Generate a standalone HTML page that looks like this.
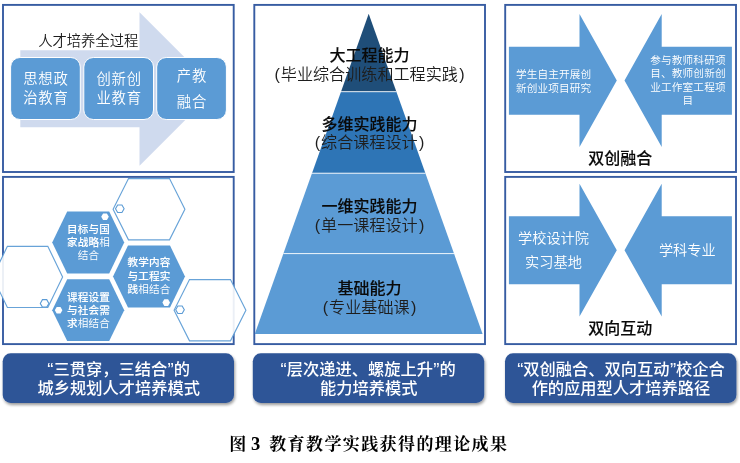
<!DOCTYPE html>
<html lang="zh-CN"><head><meta charset="utf-8"><title>图 3 教育教学实践获得的理论成果</title>
<style>
html,body{margin:0;padding:0;background:#fff;}
body{width:740px;height:463px;overflow:hidden;position:relative;}
svg{display:block;position:absolute;left:0;top:0;font-family:"Liberation Sans", "Noto Sans CJK SC", sans-serif;will-change:transform;}
.cap{font-family:"Liberation Serif", "Noto Serif CJK SC", serif;}
</style></head><body>
<svg width="740" height="463" viewBox="0 0 740 463" role="img" aria-label="图 3 教育教学实践获得的理论成果">
<defs><filter id="sh" x="-5%" y="-10%" width="112%" height="130%"><feGaussianBlur in="SourceAlpha" stdDeviation="1.5"/><feOffset dx="1.3" dy="1.6" result="o"/><feComponentTransfer><feFuncA type="linear" slope="0.4"/></feComponentTransfer><feMerge><feMergeNode/><feMergeNode in="SourceGraphic"/></feMerge></filter></defs>
<rect width="740" height="463" fill="#fff"/>
<rect x="3" y="4.9" width="230.7" height="167.1" fill="#fff" stroke="#375CA2" stroke-width="1.9"/>
<polygon points="20.3,50.3 139.5,50.3 139.5,12.2 216.3,89 139.5,165.8 139.5,127.2 20.3,127.2" fill="#CFDAEE"/>
<rect x="10.6" y="57.5" width="69.7" height="62" rx="9.5" ry="9.5" fill="#5B9BD5" stroke="#fff" stroke-width="1"/>
<rect x="83.8" y="57.5" width="69.7" height="62" rx="9.5" ry="9.5" fill="#5B9BD5" stroke="#fff" stroke-width="1"/>
<rect x="156.7" y="57.5" width="69.7" height="62" rx="9.5" ry="9.5" fill="#5B9BD5" stroke="#fff" stroke-width="1"/>
<text x="38.2" y="46.4" font-size="14.3" fill="#1c1c1c" font-weight="350" text-anchor="start" >人才培养全过程</text>
<text x="45.9" y="84.2" font-size="14.35" fill="#fff" font-weight="350" text-anchor="middle" letter-spacing="0.75">思想政</text>
<text x="45.9" y="103.0" font-size="14.35" fill="#fff" font-weight="350" text-anchor="middle" letter-spacing="0.75">治教育</text>
<text x="119.1" y="84.2" font-size="14.35" fill="#fff" font-weight="350" text-anchor="middle" letter-spacing="0.75">创新创</text>
<text x="119.1" y="103.0" font-size="14.35" fill="#fff" font-weight="350" text-anchor="middle" letter-spacing="0.75">业教育</text>
<text x="191.9" y="80.8" font-size="14.35" fill="#fff" font-weight="350" text-anchor="middle" letter-spacing="0.75">产教</text>
<text x="191.9" y="106.8" font-size="14.35" fill="#fff" font-weight="350" text-anchor="middle" letter-spacing="0.75">融合</text>
<rect x="3" y="176.9" width="230.7" height="167.2" fill="#fff" stroke="#375CA2" stroke-width="1.9"/>
<polygon points="113.1,209.2 128.5,178.6 169.5,178.6 184.9,209.2 169.5,239.79999999999998 128.5,239.79999999999998" fill="#fff" fill-opacity="0.9" stroke="#5B9BD5" stroke-opacity="0.92" stroke-width="1.15"/>
<polygon points="-7.399999999999999,276.9 7.400000000000002,246.29999999999998 47.8,246.29999999999998 62.6,276.9 47.8,307.5 7.400000000000002,307.5" fill="#fff" fill-opacity="0.9" stroke="#5B9BD5" stroke-opacity="0.92" stroke-width="1.15"/>
<polygon points="174.1,310.2 189.5,279.59999999999997 230.5,279.59999999999997 245.9,310.2 230.5,340.8 189.5,340.8" fill="#fff" fill-opacity="0.9" stroke="#5B9BD5" stroke-opacity="0.92" stroke-width="1.15"/>
<polygon points="52.2,242.5 67.2,211.6 109.2,211.6 124.2,242.5 109.2,273.4 67.2,273.4" fill="#5B9BD5"/>
<polygon points="113,276.5 128,245.6 170,245.6 185,276.5 170,307.4 128,307.4" fill="#5B9BD5"/>
<polygon points="52.2,310.2 67.2,279.3 109.2,279.3 124.2,310.2 109.2,341.09999999999997 67.2,341.09999999999997" fill="#5B9BD5"/>
<polygon points="101.2,216.8 103.1,213.494 106.9,213.494 108.8,216.8 106.9,220.10600000000002 103.1,220.10600000000002" fill="#fff"/>
<polygon points="162.39999999999998,302.6 164.29999999999998,299.29400000000004 168.1,299.29400000000004 170.0,302.6 168.1,305.906 164.29999999999998,305.906" fill="#fff"/>
<polygon points="54.800000000000004,310.3 56.7,306.994 60.5,306.994 62.4,310.3 60.5,313.606 56.7,313.606" fill="#fff"/>
<polygon points="115.5,208.7 117.64999999999999,204.959 121.95,204.959 124.1,208.7 121.95,212.44099999999997 117.64999999999999,212.44099999999997" fill="#fff" stroke="#5B9BD5" stroke-width="1.1"/>
<polygon points="40.300000000000004,303.4 42.45,299.659 46.75,299.659 48.9,303.4 46.75,307.14099999999996 42.45,307.14099999999996" fill="#fff" stroke="#5B9BD5" stroke-width="1.1"/>
<polygon points="175.7,309.8 177.85,306.059 182.15,306.059 184.3,309.8 182.15,313.541 177.85,313.541" fill="#fff" stroke="#5B9BD5" stroke-width="1.1"/>
<text x="88.5" y="233" font-size="10.6" fill="#fff" font-weight="500" text-anchor="middle" stroke="#fff" stroke-width="0.1" letter-spacing="0.15">目标与国</text>
<text x="88.5" y="246" font-size="10.6" fill="#fff" font-weight="500" text-anchor="middle" letter-spacing="0.15"><tspan font-weight="500" stroke="#fff" stroke-width="0.1">家战略</tspan><tspan font-weight="350">相</tspan></text>
<text x="88.5" y="259" font-size="10.6" fill="#fff" font-weight="500" text-anchor="middle" letter-spacing="0.15"><tspan font-weight="350">结合</tspan></text>
<text x="149.1" y="266.3" font-size="10.6" fill="#fff" font-weight="500" text-anchor="middle" stroke="#fff" stroke-width="0.1" letter-spacing="0.15">教学内容</text>
<text x="149.1" y="279.6" font-size="10.6" fill="#fff" font-weight="500" text-anchor="middle" stroke="#fff" stroke-width="0.1" letter-spacing="0.15">与工程实</text>
<text x="149.1" y="292.6" font-size="10.6" fill="#fff" font-weight="500" text-anchor="middle" letter-spacing="0.15"><tspan font-weight="500" stroke="#fff" stroke-width="0.1">践</tspan><tspan font-weight="350">相结合</tspan></text>
<text x="88.5" y="300.5" font-size="10.6" fill="#fff" font-weight="500" text-anchor="middle" stroke="#fff" stroke-width="0.1" letter-spacing="0.15">课程设置</text>
<text x="88.5" y="314.3" font-size="10.6" fill="#fff" font-weight="500" text-anchor="middle" stroke="#fff" stroke-width="0.1" letter-spacing="0.15">与社会需</text>
<text x="88.5" y="327.2" font-size="10.6" fill="#fff" font-weight="500" text-anchor="middle" letter-spacing="0.15"><tspan font-weight="500" stroke="#fff" stroke-width="0.1">求</tspan><tspan font-weight="350">相结合</tspan></text>
<rect x="254.3" y="4.9" width="230.7" height="339.2" fill="#fff" stroke="#375CA2" stroke-width="1.9"/>
<polygon points="368.7,13.8 368.7,13.8 396.4,91.7 341.0,91.7" fill="#1F4E79"/>
<polygon points="341.0,91.7 396.4,91.7 425.4,173.2 312.0,173.2" fill="#2E75B6"/>
<polygon points="312.0,173.2 425.4,173.2 454.0,253.6 283.4,253.6" fill="#5B9BD5"/>
<polygon points="283.4,253.6 454.0,253.6 482.6,334 254.8,334" fill="#5B9BD5"/>
<line x1="341.0" y1="91.7" x2="396.4" y2="91.7" stroke="#fff" stroke-width="1" stroke-opacity="0.85"/>
<line x1="312.0" y1="173.2" x2="425.4" y2="173.2" stroke="#fff" stroke-width="1" stroke-opacity="0.85"/>
<line x1="283.4" y1="253.6" x2="454.0" y2="253.6" stroke="#fff" stroke-width="1" stroke-opacity="0.85"/>
<text x="369.6" y="60.599999999999994" font-size="16" fill="#0a0a0a" font-weight="500" text-anchor="middle" stroke="#0a0a0a" stroke-width="0.12">大工程能力</text>
<text x="369.6" y="79.8" font-size="16.1" fill="#1e1e1e" font-weight="350" text-anchor="middle" ><tspan letter-spacing="0.9">(</tspan>毕业综合训练和工程实践<tspan dx="1.4">)</tspan></text>
<text x="369.6" y="129.5" font-size="16" fill="#0a0a0a" font-weight="500" text-anchor="middle" stroke="#0a0a0a" stroke-width="0.12">多维实践能力</text>
<text x="369.6" y="148.2" font-size="16.1" fill="#1e1e1e" font-weight="350" text-anchor="middle" ><tspan letter-spacing="0.9">(</tspan>综合课程设计<tspan dx="1.4">)</tspan></text>
<text x="369.6" y="211.8" font-size="16" fill="#0a0a0a" font-weight="500" text-anchor="middle" stroke="#0a0a0a" stroke-width="0.12">一维实践能力</text>
<text x="369.6" y="231.2" font-size="16.1" fill="#1e1e1e" font-weight="350" text-anchor="middle" ><tspan letter-spacing="0.9">(</tspan>单一课程设计<tspan dx="1.4">)</tspan></text>
<text x="369.6" y="293.5" font-size="16" fill="#0a0a0a" font-weight="500" text-anchor="middle" stroke="#0a0a0a" stroke-width="0.12">基础能力</text>
<text x="369.6" y="312.7" font-size="16.1" fill="#1e1e1e" font-weight="350" text-anchor="middle" ><tspan letter-spacing="0.9">(</tspan>专业基础课<tspan dx="1.4">)</tspan></text>
<rect x="505.2" y="4.9" width="230.8" height="167.1" fill="#fff" stroke="#375CA2" stroke-width="1.9"/>
<polygon points="508.9,46.7 579.5,46.7 579.5,14.1 616.8,80.6 579.5,147 579.5,114.7 508.9,114.7" fill="#5B9BD5"/>
<polygon points="731.9,46.7 661.7,46.7 661.7,14.1 624.5,80.6 661.7,147 661.7,114.7 731.9,114.7" fill="#5B9BD5"/>
<text x="553.6" y="78.3" font-size="10.65" fill="#fff" font-weight="350" text-anchor="middle" letter-spacing="0.12">学生自主开展创</text>
<text x="553.6" y="91.5" font-size="10.65" fill="#fff" font-weight="350" text-anchor="middle" letter-spacing="0.12">新创业项目研究</text>
<text x="688" y="64.3" font-size="10.65" fill="#fff" font-weight="350" text-anchor="middle" letter-spacing="0.12">参与教师科研项</text>
<text x="688" y="77.4" font-size="10.65" fill="#fff" font-weight="350" text-anchor="middle" letter-spacing="0.12">目、教师创新创</text>
<text x="688" y="90.5" font-size="10.65" fill="#fff" font-weight="350" text-anchor="middle" letter-spacing="0.12">业工作室工程项</text>
<text x="688" y="103.6" font-size="10.65" fill="#fff" font-weight="350" text-anchor="middle" letter-spacing="0.12">目</text>
<text x="620.2" y="164" font-size="16" fill="#0a0a0a" font-weight="500" text-anchor="middle" stroke="#0a0a0a" stroke-width="0.12">双创融合</text>
<rect x="505.2" y="176.9" width="230.8" height="167.2" fill="#fff" stroke="#375CA2" stroke-width="1.9"/>
<polygon points="508.9,216.3 579.5,216.3 579.5,183.7 616.8,250.2 579.5,316.6 579.5,284.3 508.9,284.3" fill="#5B9BD5"/>
<polygon points="731.9,216.3 661.7,216.3 661.7,183.7 624.5,250.2 661.7,316.6 661.7,284.3 731.9,284.3" fill="#5B9BD5"/>
<text x="553.5" y="243.2" font-size="14.2" fill="#fff" font-weight="350" text-anchor="middle" >学校设计院</text>
<text x="553.5" y="267.3" font-size="14.2" fill="#fff" font-weight="350" text-anchor="middle" >实习基地</text>
<text x="687.3" y="255" font-size="14.2" fill="#fff" font-weight="350" text-anchor="middle" >学科专业</text>
<text x="620.2" y="334" font-size="16" fill="#0a0a0a" font-weight="500" text-anchor="middle" stroke="#0a0a0a" stroke-width="0.12">双向互动</text>
<rect x="2.7" y="353.3" width="231.3" height="49.6" rx="8" ry="8" fill="#2F5597" filter="url(#sh)"/>
<text x="118.64999999999999" y="374.7" font-size="16.25" fill="#fff" font-weight="500" text-anchor="middle" ><tspan font-size="18.5" dy="0.9">“</tspan><tspan dy="-0.9">三贯穿，三结合</tspan><tspan font-size="18.5" dy="0.9" dx="0.3">”</tspan><tspan dy="-0.9">的</tspan></text>
<text x="118.64999999999999" y="393.9" font-size="16.25" fill="#fff" font-weight="500" text-anchor="middle" >城乡规划人才培养模式</text>
<rect x="252.8" y="353.3" width="231.39999999999998" height="49.6" rx="8" ry="8" fill="#2F5597" filter="url(#sh)"/>
<text x="368.1" y="374.7" font-size="16.25" fill="#fff" font-weight="500" text-anchor="middle" ><tspan font-size="18.5" dy="0.9">“</tspan><tspan dy="-0.9">层次递进、螺旋上升</tspan><tspan font-size="18.5" dy="0.9" dx="0.3">”</tspan><tspan dy="-0.9">的</tspan></text>
<text x="368.8" y="393.9" font-size="16.25" fill="#fff" font-weight="500" text-anchor="middle" >能力培养模式</text>
<rect x="505" y="353.3" width="231.39999999999998" height="49.6" rx="8" ry="8" fill="#2F5597" filter="url(#sh)"/>
<text x="621.0" y="374.7" font-size="16.25" fill="#fff" font-weight="500" text-anchor="middle" ><tspan font-size="18.5" dy="0.9">“</tspan><tspan dy="-0.9">双创融合、双向互动</tspan><tspan font-size="18.5" dy="0.9" dx="0.3">”</tspan><tspan dy="-0.9">校企合</tspan></text>
<text x="621.0" y="393.9" font-size="16.25" fill="#fff" font-weight="500" text-anchor="middle" >作的应用型人才培养路径</text>
<text class="cap" y="449.5" font-size="17" font-weight="700" fill="#000" text-anchor="start" letter-spacing="1.4"><tspan x="229.3">图</tspan><tspan x="251" font-size="18.5" letter-spacing="0">3</tspan><tspan x="269.2">教育教学实践获得的理论成果</tspan></text>
</svg>
</body></html>
